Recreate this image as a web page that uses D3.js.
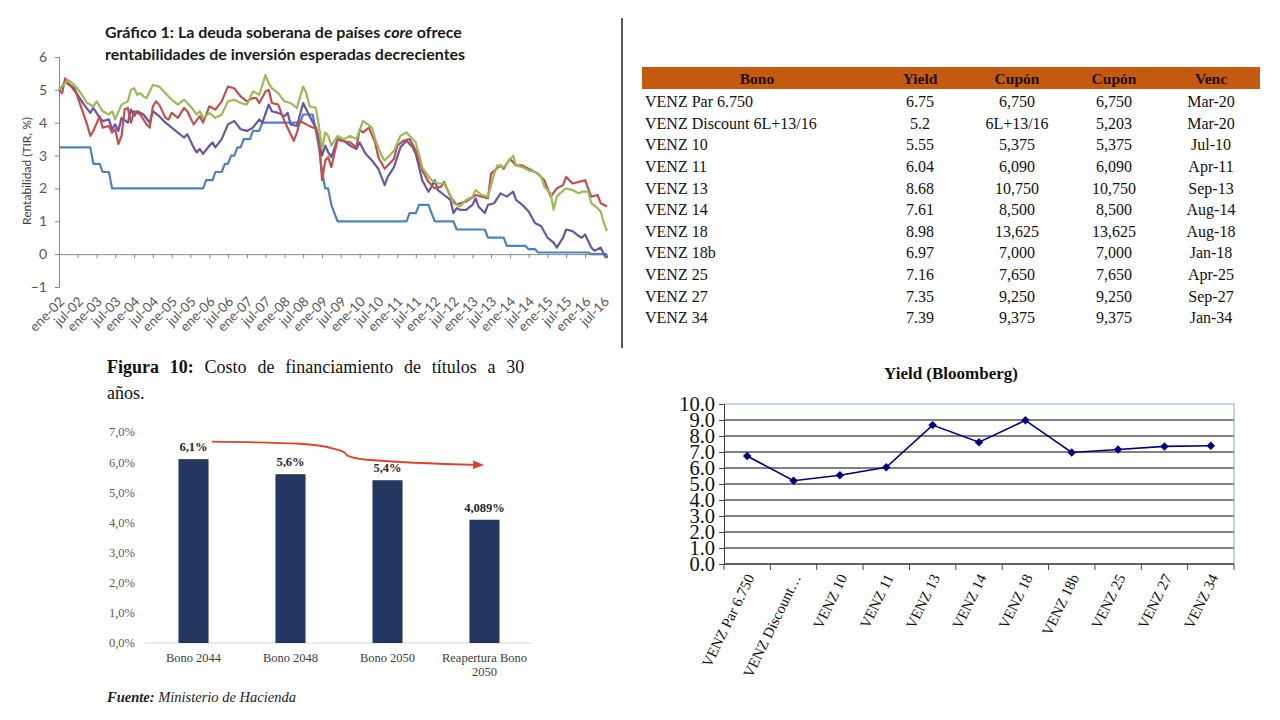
<!DOCTYPE html>
<html lang="es">
<head>
<meta charset="utf-8">
<title>Deuda soberana y bonos</title>
<script src="https://cdn.jsdelivr.net/npm/d3@7"></script>
<style>
  html, body { margin: 0; padding: 0; background: #fff; }
  svg { display: block; }
  .serif { font-family: "Liberation Serif", "Times New Roman", serif; }
  .sans { font-family: Lato, "Liberation Sans", sans-serif; }
</style>
</head>
<body>
<svg id="lienzo" width="1280" height="720"></svg>
<script>
// ---- Gráfico 1: rentabilidades (TIR, %) ----
// cada punto es [meses desde ene-02, valor]
const serieAzul = [[0,3.25],[10,3.25],[11,2.75],[13,2.75],[14,2.5],[16,2.5],[17,2.0],[46,2.0],[47,2.25],[49,2.25],[50,2.5],[52,2.5],[53,2.75],[54,2.75],[55,3.0],[56,3.0],[57,3.25],[58,3.25],[59,3.5],[61,3.5],[62,3.75],[64,3.75],[65,4.0],[77,4.0],[78,4.25],[81,4.25],[82,3.75],[83,3.25],[84,2.5],[85,2.0],[86,2.0],[87,1.5],[88,1.25],[89,1.0],[111,1.0],[112,1.25],[114,1.25],[115,1.5],[118,1.5],[119,1.25],[120,1.0],[126,1.0],[127,0.75],[136,0.75],[137,0.5],[142,0.5],[143,0.25],[149,0.25],[150,0.15],[152,0.15],[153,0.05],[169,0.05],[170,0.0],[175,0.0]];
const serieMorada = [[0,5.0],[1,5.1],[2,5.25],[4,5.1],[6,4.85],[8,4.55],[10,4.3],[11,4.45],[13,4.15],[14,4.05],[16,4.1],[17,3.8],[18,3.95],[19,3.75],[20,4.15],[22,4.0],[23,4.4],[24,4.2],[25,4.35],[27,4.25],[29,4.0],[30,4.35],[32,4.2],[34,4.0],[36,3.85],[38,3.7],[40,3.55],[41,3.65],[43,3.25],[44,3.1],[45,3.2],[46,3.05],[48,3.3],[49,3.4],[50,3.25],[52,3.5],[54,3.95],[56,4.05],[58,3.8],[60,3.75],[62,3.85],[64,4.1],[65,4.0],[67,4.55],[68,4.35],[70,4.3],[72,4.2],[73,4.3],[74,3.95],[76,3.9],[78,4.6],[80,4.2],[82,3.85],[83,3.5],[84,3.0],[85,3.3],[86,3.1],[87,2.95],[89,3.5],[91,3.45],[93,3.3],[95,3.2],[96,3.4],[98,3.05],[100,2.85],[102,2.6],[104,2.1],[105,2.35],[107,2.65],[109,3.25],[111,3.45],[113,3.25],[114,3.05],[116,2.25],[118,1.9],[119,2.05],[120,2.25],[121,1.95],[123,1.8],[125,1.65],[126,1.25],[127,1.4],[128,1.35],[130,1.35],[132,1.5],[133,1.7],[134,1.45],[136,1.25],[137,1.5],[139,1.55],[141,1.85],[143,1.75],[145,1.9],[146,1.65],[148,1.5],[150,1.3],[152,0.95],[154,0.85],[156,0.5],[158,0.35],[159,0.2],[161,0.5],[162,0.75],[164,0.7],[166,0.55],[167,0.5],[168,0.6],[170,0.2],[171,0.1],[173,0.2],[174,0.0],[175,-0.12]];
const serieRoja = [[0,5.0],[1,4.9],[2,5.35],[3,5.2],[5,5.05],[7,4.5],[9,3.95],[10,3.6],[11,3.75],[13,4.2],[14,3.85],[16,3.9],[17,3.7],[18,3.8],[19,3.35],[20,3.6],[21,4.4],[22,4.45],[23,4.0],[24,4.35],[26,4.25],[28,3.95],[29,3.85],[30,4.5],[31,4.65],[32,4.55],[34,4.15],[35,4.1],[36,4.3],[38,4.15],[40,4.45],[41,4.35],[43,3.95],[45,4.2],[46,4.0],[48,4.5],[50,4.4],[52,4.65],[54,5.1],[56,5.05],[58,4.8],[60,4.65],[62,4.75],[63,4.75],[64,4.6],[66,4.95],[67,5.0],[68,4.6],[70,4.55],[72,4.05],[74,3.65],[75,3.45],[76,3.7],[77,4.05],[79,3.95],[81,3.85],[82,3.85],[83,3.5],[84,2.25],[85,2.85],[86,2.95],[87,2.65],[89,3.5],[90,3.45],[93,3.4],[95,3.25],[96,3.8],[97,3.7],[99,3.85],[101,3.4],[102,2.95],[104,2.6],[105,2.7],[107,2.9],[108,3.3],[110,3.45],[112,3.5],[114,3.15],[116,2.55],[118,2.2],[120,2.0],[122,2.05],[123,2.2],[125,1.75],[127,1.5],[128,1.55],[130,1.6],[133,1.8],[135,1.75],[137,1.7],[138,2.45],[141,2.7],[142,2.6],[144,2.9],[146,2.7],[148,2.7],[151,2.55],[153,2.45],[155,2.25],[157,1.75],[159,2.0],[161,2.1],[162,2.35],[164,2.15],[166,2.2],[168,2.25],[170,1.75],[172,1.8],[173,1.55],[175,1.45]];
const serieVerde = [[0,5.0],[2,5.2],[3,5.3],[5,5.15],[7,4.9],[9,4.6],[11,4.5],[12,4.65],[14,4.35],[16,4.25],[17,4.35],[18,4.1],[20,4.55],[22,4.65],[23,5.0],[24,5.05],[25,4.85],[26,4.9],[27,4.8],[28,4.75],[30,5.15],[32,5.1],[34,4.9],[36,4.7],[38,4.55],[40,4.7],[42,4.5],[44,4.25],[45,4.35],[46,4.15],[48,4.3],[50,4.15],[52,4.25],[54,4.65],[56,4.7],[58,4.6],[60,4.55],[62,4.95],[64,4.85],[66,5.45],[67,5.2],[68,5.05],[70,4.9],[72,4.65],[74,4.6],[76,4.45],[78,5.1],[79,4.9],[80,4.5],[82,4.45],[83,3.9],[84,3.2],[85,3.7],[86,3.6],[87,3.3],[89,3.6],[91,3.5],[93,3.6],[95,3.5],[97,4.05],[98,4.0],[100,3.85],[101,3.5],[103,3.0],[104,2.85],[105,2.95],[107,3.15],[109,3.6],[111,3.7],[112,3.6],[114,3.4],[116,2.65],[117,2.5],[119,2.25],[121,2.15],[123,2.15],[125,1.8],[126,1.55],[128,1.45],[130,1.65],[132,1.75],[133,1.95],[135,1.8],[137,1.75],[139,2.45],[140,2.7],[142,2.65],[143,2.75],[145,3.0],[146,2.7],[148,2.65],[150,2.55],[152,2.5],[154,2.35],[155,2.05],[157,1.85],[158,1.35],[159,1.75],[160,1.85],[162,2.0],[164,1.95],[166,1.85],[167,1.9],[169,1.9],[170,1.55],[172,1.4],[173,1.3],[174,0.95],[175,0.7]];

// ---- tabla de bonos ----
const encabezados = ["Bono", "Yield", "Cupón", "Cupón", "Venc"];
const bonos = ["VENZ Par 6.750", "VENZ Discount 6L+13/16", "VENZ 10", "VENZ 11", "VENZ 13", "VENZ 14", "VENZ 18", "VENZ 18b", "VENZ 25", "VENZ 27", "VENZ 34"];
const yields = [6.75, 5.2, 5.55, 6.04, 8.68, 7.61, 8.98, 6.97, 7.16, 7.35, 7.39];
const cupones = ["6,750", "6L+13/16", "5,375", "6,090", "10,750", "8,500", "13,625", "7,000", "7,650", "9,250", "9,375"];
const cupones2 = ["6,750", "5,203", "5,375", "6,090", "10,750", "8,500", "13,625", "7,000", "7,650", "9,250", "9,375"];
const vencimientos = ["Mar-20", "Mar-20", "Jul-10", "Apr-11", "Sep-13", "Aug-14", "Aug-18", "Jan-18", "Apr-25", "Sep-27", "Jan-34"];

// ---- Figura 10: costo de financiamiento ----
const titulos = ["Bono 2044", "Bono 2048", "Bono 2050", "Reapertura Bono 2050"];
const costos = [6.1, 5.6, 5.4, 4.089];
// flecha de tendencia: [posición en categorías, %]
const tendencia = [[0.69,6.68],[1.6,6.61],[1.94,6.45],[2.06,6.31],[2.09,6.21],[2.29,6.08],[3.45,5.91]];

const svg = d3.select("#lienzo");
svg.append("rect").attr("width", 1280).attr("height", 720).attr("fill", "#fff");

// =========== Gráfico 1 ===========
const g1 = svg.append("g").attr("class", "sans");
const inicio = new Date(2002, 0, 1);
const mes = m => d3.timeMonth.offset(inicio, m);
const x1 = d3.scaleTime().domain([inicio, new Date(2016, 7, 1)]).range([59, 607]);
const y1 = d3.scaleLinear().domain([-1, 6]).range([287, 57]);

const t1 = g1.append("text").attr("x", 105).attr("y", 38)
  .attr("font-size", 16).attr("font-weight", "bold").attr("fill", "#1a1a1a");
t1.append("tspan").text("Gráfico 1: La deuda soberana de países ");
t1.append("tspan").attr("font-style", "italic").text("core");
t1.append("tspan").text(" ofrece");
g1.append("text").attr("x", 105).attr("y", 60)
  .attr("font-size", 16).attr("font-weight", "bold").attr("fill", "#1a1a1a")
  .text("rentabilidades de inversión esperadas decrecientes");

const ejeY1 = g1.append("g").attr("transform", "translate(59,0)")
  .call(d3.axisLeft(y1).ticks(7).tickSize(4).tickPadding(8));
ejeY1.selectAll("path,line").attr("stroke", "#868686");
ejeY1.selectAll("text").attr("fill", "#595959").attr("font-size", 14).attr("font-family", "Lato, sans-serif");

const semestres = d3.timeMonth.every(6).range(inicio, new Date(2016, 6, 2));
const ejeX1 = g1.append("g").attr("transform", `translate(0,${y1(0)})`)
  .call(d3.axisBottom(x1).tickValues(semestres).tickSize(4).tickFormat(""));
ejeX1.selectAll("path,line").attr("stroke", "#868686");

const es = d3.timeFormatLocale({
  dateTime: "%x %X", date: "%d/%m/%Y", time: "%H:%M:%S", periods: ["AM", "PM"],
  days: ["domingo","lunes","martes","miércoles","jueves","viernes","sábado"],
  shortDays: ["dom","lun","mar","mié","jue","vie","sáb"],
  months: ["enero","febrero","marzo","abril","mayo","junio","julio","agosto","septiembre","octubre","noviembre","diciembre"],
  shortMonths: ["ene","feb","mar","abr","may","jun","jul","ago","sep","oct","nov","dic"]
});
const fmtMes = es.format("%b-%y");
g1.append("g").selectAll("text").data(semestres).join("text")
  .attr("transform", d => `translate(${x1(d) + 3},299) rotate(-45)`)
  .attr("text-anchor", "end").attr("dy", "0.35em")
  .attr("font-size", 13.5).attr("fill", "#595959")
  .text(d => fmtMes(d));

g1.append("text")
  .attr("transform", `translate(27,${(y1(6) + y1(-1)) / 2 - 1}) rotate(-90)`)
  .attr("text-anchor", "middle").attr("dy", "0.35em")
  .attr("font-size", 12).attr("fill", "#404040")
  .text("Rentabilidad (TIR, %)");

const linea1 = d3.line().x(d => x1(mes(d[0]))).y(d => y1(d[1]));
[[serieAzul, "#4F81BD"], [serieMorada, "#6A55A0"], [serieRoja, "#C0504D"], [serieVerde, "#9BBB59"]]
  .forEach(([serie, color]) => {
    g1.append("path").datum(serie).attr("d", linea1)
      .attr("fill", "none").attr("stroke", color)
      .attr("stroke-width", 2.2).attr("stroke-linejoin", "round");
  });

// separador vertical
svg.append("line").attr("x1", 622).attr("x2", 622).attr("y1", 18).attr("y2", 348)
  .attr("stroke", "#222").attr("stroke-width", 1.5);

// =========== Tabla ===========
const tabla = svg.append("g").attr("class", "serif");
tabla.append("rect").attr("x", 642).attr("y", 67).attr("width", 618).attr("height", 22)
  .attr("fill", "#C55A11");
const colX = [757, 920, 1017, 1114, 1211];
tabla.selectAll("text.enc").data(encabezados).join("text").attr("class", "enc")
  .attr("x", (d, i) => colX[i]).attr("y", 84)
  .attr("text-anchor", "middle").attr("font-size", 15.5).attr("font-weight", "bold")
  .attr("fill", "#1f1005").text(d => d);

const filas = bonos.map((b, i) => [b, String(yields[i]), cupones[i], cupones2[i], vencimientos[i]]);
const yFila = d3.scalePoint().domain(d3.range(filas.length)).range([101.7, 317.5]);
const fila = tabla.selectAll("g.fila").data(filas).join("g").attr("class", "fila")
  .attr("transform", (d, i) => `translate(0,${yFila(i)})`);
fila.selectAll("text").data(d => d).join("text")
  .attr("x", (d, i) => i === 0 ? 645 : colX[i])
  .attr("text-anchor", (d, i) => i === 0 ? "start" : "middle")
  .attr("dy", "0.35em").attr("font-size", 16).attr("fill", "#111")
  .text(d => d);

// =========== Figura 10 ===========
const g3 = svg.append("g").attr("class", "serif");
const fig = g3.append("text").attr("x", 107).attr("y", 373).attr("font-size", 18).attr("fill", "#111");
fig.append("tspan").attr("font-weight", "bold").text("Figura 10:");
fig.append("tspan").text(" Costo de financiamiento de títulos a 30");
// justificado hasta el margen derecho
const largo = fig.node().getComputedTextLength();
fig.attr("word-spacing", (518 - 107 - largo) / 7);
g3.append("text").attr("x", 107).attr("y", 399).attr("font-size", 18).attr("fill", "#111").text("años.");

const xb = d3.scaleBand().domain(titulos).range([145, 533]).paddingInner(0.69).paddingOuter(0.345);
const yb = d3.scaleLinear().domain([0, 7]).range([643, 432]);
const esNum = d3.formatLocale({ decimal: ",", thousands: ".", grouping: [3], currency: ["", "€"] });
const fmtEje = esNum.format(".1f");
const fmtDato = esNum.format(".4~g");

g3.append("g").selectAll("text").data(yb.ticks(7)).join("text")
  .attr("x", 135).attr("y", d => yb(d)).attr("dy", "0.35em")
  .attr("text-anchor", "end").attr("font-size", 12.5).attr("fill", "#595959")
  .text(d => fmtEje(d) + "%");

g3.append("line").attr("x1", 145).attr("x2", 533).attr("y1", yb(0)).attr("y2", yb(0))
  .attr("stroke", "#d9d9d9").attr("stroke-width", 1);

g3.append("g").selectAll("rect").data(costos).join("rect")
  .attr("x", (d, i) => xb(titulos[i])).attr("width", xb.bandwidth())
  .attr("y", d => yb(d)).attr("height", d => yb(0) - yb(d))
  .attr("fill", "#243760");

g3.append("g").selectAll("text").data(costos).join("text")
  .attr("x", (d, i) => xb(titulos[i]) + xb.bandwidth() / 2)
  .attr("y", d => yb(d) - 8)
  .attr("text-anchor", "middle").attr("font-size", 12.5).attr("font-weight", "bold").attr("fill", "#262626")
  .text(d => fmtDato(d) + "%");

const etiquetas = g3.append("g").selectAll("text").data(titulos).join("text")
  .attr("x", d => xb(d) + xb.bandwidth() / 2).attr("y", 662)
  .attr("text-anchor", "middle").attr("font-size", 12.5).attr("fill", "#404040");
etiquetas.each(function (d) {
  const el = d3.select(this);
  const palabras = d.split(" ");
  let lineas = [[]];
  palabras.forEach(p => {
    const prueba = lineas[lineas.length - 1].concat(p).join(" ");
    if (prueba.length > 16 && lineas[lineas.length - 1].length) lineas.push([p]);
    else lineas[lineas.length - 1].push(p);
  });
  lineas.forEach((l, k) => {
    el.append("tspan").attr("x", el.attr("x")).attr("dy", k ? 14 : 0).text(l.join(" "));
  });
});

// flecha de tendencia
svg.append("defs").append("marker").attr("id", "punta")
  .attr("viewBox", "0 -5 10 10").attr("refX", 6).attr("refY", 0)
  .attr("markerWidth", 6).attr("markerHeight", 6).attr("orient", "auto")
  .append("path").attr("d", "M0,-4L10,0L0,4Z").attr("fill", "#D9432F");
const xCat = p => xb.range()[0] + xb.step() * p;
g3.append("path").datum(tendencia)
  .attr("d", d3.line().x(d => xCat(d[0])).y(d => yb(d[1])).curve(d3.curveMonotoneX))
  .attr("fill", "none").attr("stroke", "#D9432F").attr("stroke-width", 1.8)
  .attr("marker-end", "url(#punta)");

const fuente = g3.append("text").attr("x", 107).attr("y", 702).attr("font-size", 14.5)
  .attr("font-style", "italic").attr("fill", "#222");
fuente.append("tspan").attr("font-weight", "bold").text("Fuente:");
fuente.append("tspan").text(" Ministerio de Hacienda");

// =========== Yield (Bloomberg) ===========
const g4 = svg.append("g").attr("class", "serif");
const xy = d3.scaleBand().domain(bonos).range([724, 1234]);
const yy = d3.scaleLinear().domain([0, 10]).range([564, 404]);

g4.append("text").attr("x", 951).attr("y", 379).attr("text-anchor", "middle")
  .attr("font-size", 17).attr("font-weight", "bold").attr("fill", "#111")
  .text("Yield (Bloomberg)");

g4.append("g").selectAll("line").data(yy.ticks(10)).join("line")
  .attr("x1", 724).attr("x2", 1234).attr("y1", d => yy(d)).attr("y2", d => yy(d))
  .attr("stroke", d => d === 10 ? "#7FA7D6" : "#000").attr("stroke-width", 1);
g4.append("line").attr("x1", 1234).attr("x2", 1234).attr("y1", 404).attr("y2", 564)
  .attr("stroke", "#7FA7D6");

const ejeYy = g4.append("g").attr("transform", "translate(724,0)")
  .call(d3.axisLeft(yy).ticks(10).tickSize(5).tickPadding(4).tickFormat(d3.format(".1f")));
ejeYy.selectAll("path,line").attr("stroke", "#444");
ejeYy.selectAll("text").attr("font-size", 20.5).attr("fill", "#111")
  .attr("font-family", "'Liberation Serif', serif");

const bordes = bonos.map(b => xy(b)).concat(xy.range()[1]);
g4.append("line").attr("x1", 724).attr("x2", 1234).attr("y1", 564).attr("y2", 564).attr("stroke", "#444");
g4.append("g").selectAll("line").data(bordes).join("line")
  .attr("x1", d => d).attr("x2", d => d).attr("y1", 564).attr("y2", 570).attr("stroke", "#444");

const corto = s => s.length > 15 ? s.slice(0, 13) + "…" : s;
g4.append("g").selectAll("text").data(bonos).join("text")
  .attr("transform", d => `translate(${xy(d) + xy.bandwidth() / 2 + 3},575) rotate(-64)`)
  .attr("text-anchor", "end").attr("dy", "0.35em")
  .attr("font-size", 15).attr("fill", "#111")
  .text(d => corto(d));

const puntos = bonos.map((b, i) => [b, yields[i]]);
g4.append("path").datum(puntos)
  .attr("d", d3.line().x(d => xy(d[0]) + xy.bandwidth() / 2).y(d => yy(d[1])))
  .attr("fill", "none").attr("stroke", "#000080").attr("stroke-width", 1.6);
g4.append("g").selectAll("path").data(puntos).join("path")
  .attr("d", d3.symbol(d3.symbolSquare, 36))
  .attr("transform", d => `translate(${xy(d[0]) + xy.bandwidth() / 2},${yy(d[1])}) rotate(45)`)
  .attr("fill", "#000080");
</script>
</body>
</html>
